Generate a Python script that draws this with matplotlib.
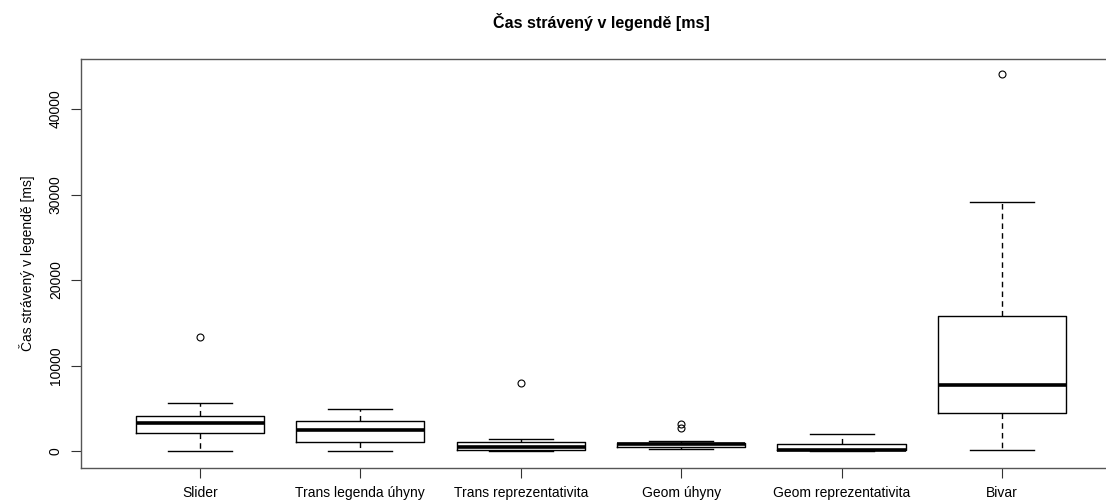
import matplotlib
matplotlib.use("Agg")
import matplotlib.pyplot as plt

plt.rcParams['font.family'] = ['Liberation Sans', 'DejaVu Sans']

# hodnoty (ms)
kategorie = ['Slider', 'Trans legenda úhyny', 'Trans reprezentativita',
             'Geom úhyny', 'Geom reprezentativita', 'Bivar']
dolni_vous = [30, 30, 30, 200, 30, 80]
q1 = [2070, 1010, 80, 470, 100, 4480]
median = [3310, 2420, 470, 780, 130, 7720]
q3 = [4130, 3540, 1090, 970, 850, 15820]
horni_vous = [5580, 4870, 1400, 1200, 1990, 29160]
odlehle = [[13300], [], [7990], [3160, 2650], [], [44090]]

stats = []
for i, nazev in enumerate(kategorie):
    stats.append({
        'label': nazev,
        'whislo': dolni_vous[i],
        'q1': q1[i],
        'med': median[i],
        'q3': q3[i],
        'whishi': horni_vous[i],
        'fliers': odlehle[i],
    })

fig = plt.figure(figsize=(11.06, 5.01), dpi=100)
ax = fig.add_axes([0.0732, 0.0665, 0.9403, 0.8157])

ax.bxp(stats, positions=range(1, 7), widths=0.8,
       boxprops=dict(color='black', linewidth=1),
       medianprops=dict(color='black', linewidth=2.6),
       whiskerprops=dict(color='black', linewidth=1, linestyle=(0, (4, 3))),
       capprops=dict(color='black', linewidth=1),
       flierprops=dict(marker='o', markerfacecolor='none', markeredgecolor='black',
                       markersize=5, markeredgewidth=0.8),
       capwidths=0.4)

ax.set_xlim(0.26, 6.74)
ax.set_ylim(-1950, 45850)
ax.set_yticks([0, 10000, 20000, 30000, 40000])
ax.set_yticklabels(['0', '10000', '20000', '30000', '40000'], rotation=90, va='center')
ax.set_xticks(range(1, 7))
ax.set_xticklabels(kategorie)
ax.tick_params(axis='both', length=7, width=0.8, color='#333333', labelsize=10, pad=6)

for s in ax.spines.values():
    s.set_color('#555555')
    s.set_linewidth(1)

ax.set_ylabel('Čas strávený v legendě [ms]', fontsize=10, labelpad=10)
ax.set_title('Čas strávený v legendě [ms]', fontsize=11.5, fontweight='bold', pad=22)

fig.savefig('out.png', dpi=100)
